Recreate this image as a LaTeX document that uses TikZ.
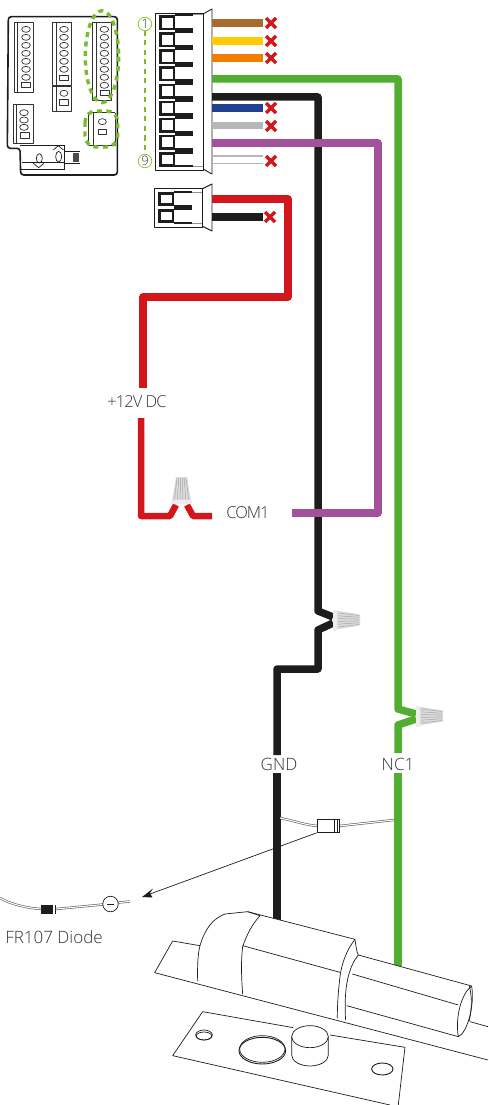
\documentclass[tikz,border=0pt]{standalone}
\usepackage{fontspec}
\setmainfont{Open Sans Light}
\definecolor{wgreen}{HTML}{52AE32}
\definecolor{wblack}{HTML}{1D1D1B}
\definecolor{wred}{HTML}{D2161B}
\definecolor{wpurple}{HTML}{A3519B}
\definecolor{wbrown}{HTML}{A66B2D}
\definecolor{wyellow}{HTML}{FFCB05}
\definecolor{worange}{HTML}{F07D00}
\definecolor{wblue}{HTML}{1F3F8F}
\definecolor{wgray}{HTML}{B5B8BB}
\definecolor{lab}{HTML}{333333}
\tikzset{
  wire/.style={line width=#1,line join=round},
  wire/.default=7.5pt,
  lbl/.style={text=lab,inner sep=0pt,font=\fontsize{17}{17}\selectfont},
  lbltight/.style={text=lab,inner sep=0pt,font=\fontsize{16.5}{17}\selectfont\addfontfeature{LetterSpace=-6}},
  cross/.pic={\draw[wred,line width=3.3pt] (-5,-5)--(5,5) (-5,5)--(5,-5);},
  cell/.pic={\draw[wblack,line width=2.6pt,fill=white] (-6.8,-6.2) rectangle (6.8,6.2);},
  pin/.style={fill=wblack,draw=none},
  bline/.style={draw=wblack,line width=0.9pt,line join=round},
  thinl/.style={draw=wblack,line width=0.7pt,line join=round},
  callout/.style={draw=wgreen!80!yellow,line width=3.4pt,dash pattern=on 5pt off 4.5pt},
  wirenut/.pic={
    \fill[gray!28] (0,-10)--(27,-5.5)--(27,5.5)--(0,10)--cycle;
    \foreach \d in {-5,-3,-1,1,3,5}{\draw[gray!70,line width=0.5pt] (5,\d*1.4)--(26,\d*0.9);}
    \fill[gray!14] (0,-10.5) rectangle (4,10.5);
  },
  dline/.style={double=white,draw=gray!70!black,double distance=1.1pt,line width=0.6pt},
  numc/.style={circle,draw=wgreen!70!yellow,line width=0.7pt,minimum size=13.5pt,inner sep=0pt,text=lab,font=\fontsize{13}{13}\selectfont},
}
\begin{document}
\begin{tikzpicture}[x=1pt,y=-1pt]
\useasboundingbox (0,0) rectangle (488,1105);

% ---- board thumbnail
\begin{scope}[x=0.3333pt,y=-0.3333pt]
\draw[wblack,line width=1.6pt,rounded corners=3pt] (25,50)--(352,50)--(352,525)--(62,525)--(60,445)--(22,445)--cycle;
\begin{scope}[thinl,draw=black!80]
\draw (42,68) rectangle (100,278) (52,68)--(52,278);
\draw (157,68) rectangle (215,255) (170,68)--(170,255);
\draw (277,68) rectangle (335,300) (290,68)--(290,300);
\draw (157,260) rectangle (215,333) (170,260)--(170,333);
\draw (40,312) rectangle (100,430) (50,312)--(50,430);
\draw (265,338)--(345,338) (265,338)--(265,435)--(345,435)--(345,338) (280,338)--(280,435);
\foreach \x/\n in {78/7,192/6,313/8}{
  \foreach \i in {1,...,\n}{\draw (\x,88+\i*24-24) ellipse (13 and 9);}
}
\draw (65,247) rectangle (92,263);
\draw (178,226) rectangle (206,242);
\draw (300,270) rectangle (327,287);
\draw (192,280) ellipse (12 and 9);
\draw (179,298) rectangle (205,315);
\foreach \y in {338,360,382}{\draw (72,\y) ellipse (13 and 9);}
\draw (60,398) rectangle (88,414);
\draw (307,365) ellipse (12 and 9);
\draw (295,387) rectangle (320,403);
\end{scope}
\draw[wblack,line width=1pt] (60,437)--(195,437)--(195,510)--(60,510);
\draw[thinl] (195,455)--(240,455) (195,490)--(240,490);
\fill[black!70] (218,458) rectangle (236,487);
\draw[thinl] (65,487)--(195,487);
\draw[thinl] (118,475) ellipse (9 and 14) (176,470) ellipse (9 and 16);
\draw[thinl] (100,490)--(116,503)--(132,490) (160,450)--(175,437)--(190,450);
\draw[callout] (306,170) ellipse (50 and 138);
\draw[callout,rounded corners=11pt] (255,333) rectangle (353,441);
\end{scope}

% ---- numbering
\draw[wgreen!80!yellow,line width=1.4pt,dash pattern=on 5pt off 4.5pt] (145,31)--(145,154);
\node[numc] (n1) at (145,24) {1};
\node[numc] (n9) at (145,161) {9};

% ---- 9-way connector
\draw[thinl] (155,13) rectangle (203,170);
\draw[bline] (203,14)--(212,9)--(212,174)--(203,169);
\draw[wgray!80!black,line width=1pt] (193,15)--(203,15) (193,166)--(203,166);
\draw[wblack,line width=1.6pt] (175,15)--(193,15) (175,166)--(193,166);
\foreach \y in {22.7,39.8,56.9,74,91.1,108.2,125.3,142.4,159.5}{\pic at (167,\y) {cell};}
\foreach \y in {30.5,47.5,64.5,82,99,116,133.5,151}{\fill[pin] (175,\y-2.8) rectangle (193,\y+2.8);}

% ---- 2-way connector
\draw[thinl] (154,188) rectangle (202,227);
\draw[bline] (202,189)--(212,184)--(212,231)--(202,226);
\draw[wgray!80!black,line width=1pt] (192,192)--(202,192) (192,223)--(202,223);
\draw[wblack,line width=1.6pt] (174,192)--(192,192) (174,223)--(192,223);
\foreach \y in {199,216}{\pic[yscale=0.9] at (166,\y) {cell};}
\fill[pin] (174,204.5) rectangle (192,210);

% ---- terminated wires
\draw[wire,wbrown] (212,23)--(263,23);
\draw[wire,wyellow] (212,41)--(263,41);
\draw[wire,worange] (212,58)--(263,58);
\draw[wire,wblue] (212,108)--(263,108);
\draw[wire,wgray] (212,125.5)--(263,125.5);
\draw[wgray,line width=1.8pt] (212,156)--(263,156) (212,163.5)--(263,163.5);
\draw[wire,wblack] (212,217)--(263,217);
\foreach \y in {23,41,58,108,126,161}{\pic at (271,\y) {cross};}
\pic at (270,217) {cross};

% ---- long wires
\draw[wire,wgreen] (212,79)--(398,79)--(398,709)--(416,714);
\draw[wire,wgreen] (416,719)--(398,725)--(398,753);
\draw[wire,wgreen] (398,773)--(398,966);
\pic at (416,716) {wirenut};
\draw[wire,wblack] (212,97)--(318,97)--(318,611)--(333,617);
\draw[wire,wblack] (333,623)--(318,630)--(318,669)--(277,669)--(277,755);
\draw[wire,wblack] (277,773)--(277,920);
\pic at (333,620) {wirenut};
\draw[wire,wpurple] (212,143)--(378,143)--(378,513)--(292,513);
\draw[wire,wred] (212,199)--(288,199)--(288,297)--(143,297)--(143,388);
\draw[wire=6.5pt,wred] (141,418)--(141,516)--(170,516)--(176,505) (187,505)--(193,516)--(212,516);
\pic[rotate=90] at (181.5,504) {wirenut};

% ---- labels
\node[lbltight] (v12) at (137,402) {+12V DC};
\node[lbltight] (com) at (248,513) {COM1};
\node[lbl] (gnd) at (279,764) {GND};
\node[lbl] (nc) at (398,764) {NC1};
\node[lbl] (fr) at (54,937) {FR107 Diode};

% ---- diode on the lock wires
\draw[dline] (280,818) .. controls (295,821) and (305,825) .. (318,826);
\draw[dline] (339,826)--(394,820);
\node[draw=wblack,line width=0.7pt,fill=white,minimum width=22pt,minimum height=13pt,inner sep=0pt] (dio) at (328,826) {};
\draw[wblack,line width=0.7pt] (334,819.5)--(334,832.5) (337,819.5)--(337,832.5);

% ---- detached diode
\draw[dline] (0,898) .. controls (12,905) and (28,908) .. (41,909);
\fill[wblack] (41,905) rectangle (53,914);
\fill[wblack] (54.5,905) rectangle (55.5,914);
\draw[dline] (56,909)--(103,904.5);
\draw[dline] (118.5,902.5)--(130,901.5);
\node[circle,draw=wblack,line width=0.7pt,minimum size=15.5pt,inner sep=0pt] (minus) at (110.5,904) {};
\draw[wblack,line width=0.9pt] (107,904)--(114,904);

% ---- arrow
\coordinate (tip) at (142,897);
\draw[thinl] (dio.south west)--(150,894);
\fill[wblack] (tip)--(153,888.5)--(150,893)--(152.5,897.5)--cycle;

% ---- lock
\begin{scope}[xshift=150pt,yshift=-900pt,x=0.3333pt,y=-0.3333pt]
\fill[white] (14,218)--(68,123)--(150,137) .. controls (165,85) and (190,55) .. (225,42)--(293,35)--(615,118) .. controls (618,140) and (620,155) .. (625,165)--(965,258)--(965,340)--(1014,380)--(1014,480)--cycle;
\begin{scope}[every path/.append style={thinl}]
\draw (1014,480)--(14,218)--(68,123)--(150,137);
\draw (143,243) .. controls (142,200) and (143,165) .. (150,137) .. controls (165,85) and (190,55) .. (225,42)--(293,35)--(615,118);
\draw (293,35)--(330,47) .. controls (305,75) and (290,105) .. (278,140) .. controls (272,190) and (275,240) .. (278,283);
\draw (278,137)--(570,217);
\draw (615,118) .. controls (590,150) and (575,190) .. (570,230) .. controls (564,280) and (562,320) .. (562,355);
\draw (625,165) .. controls (600,195) and (590,240) .. (587,280) .. controls (585,310) and (585,335) .. (587,360);
\draw (615,118) .. controls (618,140) and (620,155) .. (625,165)--(965,258);
\draw (607,222)--(925,315);
\draw (590,317)--(925,410);
\draw (965,258) .. controls (935,280) and (915,350) .. (925,410) .. controls (950,400) and (975,320) .. (965,258);
\draw (958,258) .. controls (965,285) and (968,320) .. (957,365);
\draw (960,365)--(1014,380);
\end{scope}
% plate
\fill[white] (158,335)--(765,442)--(745,615)--(720,615)--(68,467)--cycle;
\begin{scope}[every path/.append style={thinl}]
\draw (430,383)--(158,335)--(68,467)--(720,615);
\draw (540,405)--(765,442)--(745,615);
\draw (162,405) ellipse (25 and 15);
\draw (162,408) ellipse (23 and 12);
\draw[line width=0.9pt] (337,452) ellipse (70 and 40);
\draw (337,447) ellipse (68 and 40);
\draw[fill=white] (425,410)--(425,465) arc[start angle=180,end angle=0,x radius=55,y radius=33]--(535,410)--cycle;
\draw[fill=white] (480,410) ellipse (55 and 33);
\draw[line width=0.9pt] (697,507) ellipse (32 and 18);
\end{scope}
\end{scope}
\end{tikzpicture}
\end{document}
